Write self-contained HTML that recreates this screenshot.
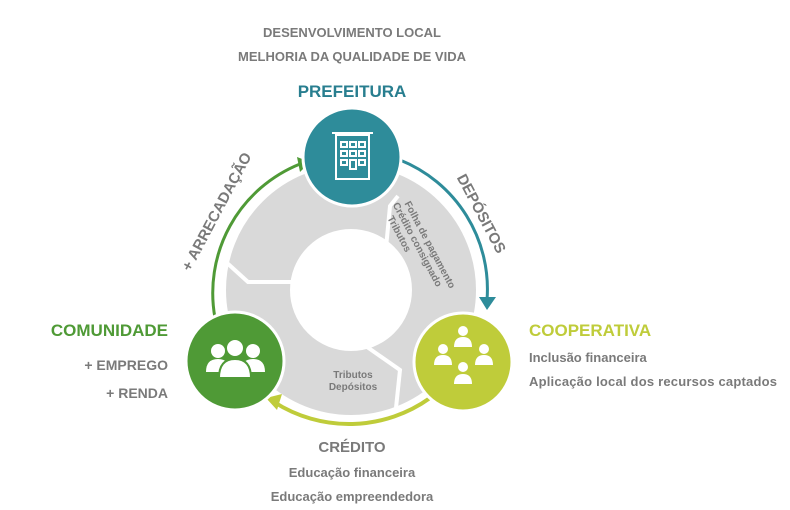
<!DOCTYPE html>
<html><head><meta charset="utf-8"><style>
body{margin:0;background:#fff;}
svg{display:block;font-family:"Liberation Sans",sans-serif;}
</style></head><body>
<svg width="790" height="510" viewBox="0 0 790 510">
<text x="352" y="37" text-anchor="middle" font-size="13" font-weight="bold" fill="#7a7a7a">DESENVOLVIMENTO LOCAL</text>
<text x="352" y="61" text-anchor="middle" font-size="13" font-weight="bold" fill="#7a7a7a">MELHORIA DA QUALIDADE DE VIDA</text>
<text x="352" y="97" text-anchor="middle" font-size="17" font-weight="bold" fill="#287e8f">PREFEITURA</text>

<circle cx="351" cy="290" r="93" fill="none" stroke="#d9d9d9" stroke-width="64"/>
<polyline points="398,196 390,206 386,248" fill="none" stroke="#fff" stroke-width="4"/>
<polyline points="226,262 248,282 292,282" fill="none" stroke="#fff" stroke-width="4"/>
<polyline points="360,342 400,370 396,408" fill="none" stroke="#fff" stroke-width="4"/>

<path d="M215,318 A139,139 0 0 1 300,164" fill="none" stroke="#4f9a36" stroke-width="3"/>
<path d="M297,157 L310,162 L300,172 Z" fill="#4f9a36"/>
<path d="M400,160 A139,139 0 0 1 487,300" fill="none" stroke="#2e8c9a" stroke-width="3"/>
<path d="M479,297 L496,297 L487,310 Z" fill="#2e8c9a"/>
<path d="M430,398 A139,139 0 0 1 274,402" fill="none" stroke="#bfcc3a" stroke-width="4"/>
<path d="M266,398 L282,394 L277,410 Z" fill="#bfcc3a"/>

<circle cx="352" cy="157" r="49" fill="#2e8c9a" stroke="#fff" stroke-width="3"/>
<circle cx="235" cy="361" r="49" fill="#4f9a36" stroke="#fff" stroke-width="3"/>
<circle cx="463" cy="362" r="49" fill="#bfcc3a" stroke="#fff" stroke-width="3"/>

<g fill="none" stroke="#fff" stroke-width="2">
<rect x="336" y="135" width="33" height="44"/>
<line x1="332" y1="133" x2="373" y2="133"/>
<rect x="341" y="142" width="6" height="5"/><rect x="350" y="142" width="6" height="5"/><rect x="359" y="142" width="6" height="5"/>
<rect x="341" y="151" width="6" height="5"/><rect x="350" y="151" width="6" height="5"/><rect x="359" y="151" width="6" height="5"/>
<rect x="341" y="160" width="6" height="5"/><rect x="350" y="160" width="6" height="9"/><rect x="359" y="160" width="6" height="5"/>
</g>
<g fill="#fff">
<circle cx="218" cy="351" r="7"/><path d="M206,372 q0,-13 12,-13 q12,0 12,13 Z"/>
<circle cx="253" cy="351" r="7"/><path d="M241,372 q0,-13 12,-13 q12,0 12,13 Z"/>
<circle cx="235" cy="348" r="9" stroke="#4f9a36" stroke-width="2"/><path d="M219,378 q0,-19 16,-19 q16,0 16,19 Z" stroke="#4f9a36" stroke-width="2"/>
</g>
<g fill="#fff">
<circle cx="463" cy="331" r="5"/><path d="M454,347 q0,-10 9,-10 q9,0 9,10 Z"/>
<circle cx="443" cy="349" r="5"/><path d="M434,365 q0,-10 9,-10 q9,0 9,10 Z"/>
<circle cx="484" cy="349" r="5"/><path d="M475,365 q0,-10 9,-10 q9,0 9,10 Z"/>
<circle cx="463" cy="367" r="5"/><path d="M454,384 q0,-10 9,-10 q9,0 9,10 Z"/>
</g>

<text transform="translate(221,214) rotate(-62)" text-anchor="middle" font-size="15" font-weight="bold" fill="#7a7a7a">+ ARRECADAÇÃO</text>
<text transform="translate(477,216) rotate(62)" text-anchor="middle" font-size="15" font-weight="bold" fill="#7a7a7a">DEPÓSITOS</text>
<g transform="translate(420,250) rotate(62)" font-size="10" font-weight="bold" fill="#7a7a7a" text-anchor="middle">
<text x="0" y="-8">Folha de pagamento</text>
<text x="-6" y="3">Crédito consignado</text>
<text x="-24" y="14">Tributos</text>
</g>
<text x="353" y="378" text-anchor="middle" font-size="10" font-weight="bold" fill="#7a7a7a">Tributos</text>
<text x="353" y="390" text-anchor="middle" font-size="10" font-weight="bold" fill="#7a7a7a">Depósitos</text>

<text x="168" y="336" text-anchor="end" font-size="17" font-weight="bold" fill="#4f9a36">COMUNIDADE</text>
<text x="168" y="370" text-anchor="end" font-size="14" font-weight="bold" fill="#7a7a7a">+ EMPREGO</text>
<text x="168" y="398" text-anchor="end" font-size="14" font-weight="bold" fill="#7a7a7a">+ RENDA</text>
<text x="529" y="336" font-size="17" font-weight="bold" fill="#bfcc3a">COOPERATIVA</text>
<text x="529" y="362" font-size="13" font-weight="bold" fill="#7a7a7a">Inclusão financeira</text>
<text x="529" y="386" font-size="13" font-weight="bold" fill="#7a7a7a" textLength="248">Aplicação local dos recursos captados</text>
<text x="352" y="452" text-anchor="middle" font-size="15" font-weight="bold" fill="#7a7a7a">CRÉDITO</text>
<text x="352" y="477" text-anchor="middle" font-size="13" font-weight="bold" fill="#7a7a7a">Educação financeira</text>
<text x="352" y="501" text-anchor="middle" font-size="13" font-weight="bold" fill="#7a7a7a">Educação empreendedora</text>
</svg>
</body></html>
